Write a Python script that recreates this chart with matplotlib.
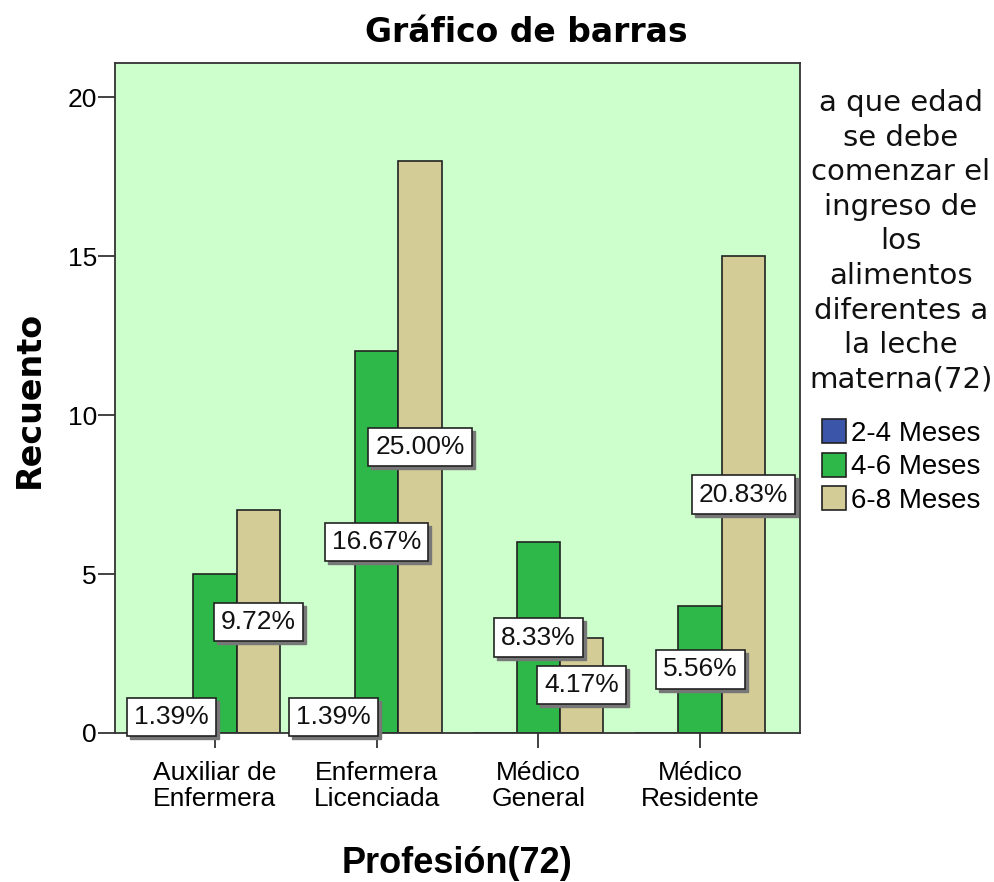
import matplotlib
matplotlib.use("Agg")
import matplotlib.pyplot as plt
import matplotlib.transforms as mtransforms
from matplotlib.patches import Patch
import numpy as np

plt.rcParams['font.family'] = ['Liberation Sans', 'DejaVu Sans']

categories = ["Auxiliar de\nEnfermera", "Enfermera\nLicenciada", "Médico\nGeneral", "Médico\nResidente"]
series_names = ["2-4 Meses", "4-6 Meses", "6-8 Meses"]
counts_2_4 = [1, 1, 0, 0]
counts_4_6 = [5, 12, 6, 4]
counts_6_8 = [7, 18, 3, 15]
total = 72
# which percentage labels are visible in the reference (per series, per category)
show_2_4 = [True, True, False, False]
show_4_6 = [False, True, True, True]
show_6_8 = [True, True, True, True]

colors = ["#3b55a8", "#2eb84a", "#d4cc96"]
series = [counts_2_4, counts_4_6, counts_6_8]
shows = [show_2_4, show_4_6, show_6_8]

W, H = 994, 882
fig = plt.figure(figsize=(W / 100, H / 100), dpi=100)
ax = fig.add_axes([115 / W, 1 - 733 / H, (800 - 115) / W, (733 - 63) / H])
ax.set_facecolor("#ccffcc")

x = np.arange(len(categories))
bw = 0.268
offsets = [-bw, 0, bw]

for vals, col, off in zip(series, colors, offsets):
    ax.bar(x + off, vals, width=bw, color=col, edgecolor="#222222", linewidth=1.2, zorder=2)

shadow_tr = mtransforms.offset_copy(ax.transData, fig=fig, x=3, y=-3, units="dots")
for vals, show, off in zip(series, shows, offsets):
    for i, v in enumerate(vals):
        if not show[i]:
            continue
        lbl = f"{v / total * 100:.2f}%"
        ax.text(x[i] + off, v / 2, lbl, transform=shadow_tr, ha="center", va="center",
                fontsize=19, color="#777777", zorder=4, clip_on=False,
                bbox=dict(boxstyle="square,pad=0.27", facecolor="#777777", edgecolor="#777777", linewidth=1))
        ax.text(x[i] + off, v / 2, lbl, ha="center", va="center", fontsize=19, color="#111111",
                zorder=5, clip_on=False,
                bbox=dict(boxstyle="square,pad=0.27", facecolor="white", edgecolor="#222222", linewidth=1.2))

ax.set_xlim(-0.617, 3.617)
ax.set_ylim(0, 21.07)
ax.set_yticks([0, 5, 10, 15, 20])
ax.set_xticks(x)
ax.set_xticklabels(categories, fontsize=19, linespacing=1.1)
ax.tick_params(axis="y", labelsize=19, length=12, width=1.2, color="#222222", pad=1)
ax.tick_params(axis="x", length=11, width=1.2, color="#222222", pad=9)
for s in ax.spines.values():
    s.set_color("#333333")
    s.set_linewidth(1.3)

fig.text(526 / W, 1 - 42 / H, "Gráfico de barras", ha="center", va="baseline",
         fontsize=23.8, fontweight="bold", family="DejaVu Sans")
fig.text(457 / W, 1 - 873 / H, "Profesión(72)", ha="center", va="baseline",
         fontsize=26, fontweight="bold")
fig.text(29 / W, 1 - 399 / H, "Recuento", ha="center", va="center", rotation=90,
         fontsize=24, fontweight="bold", family="DejaVu Sans")

fig.text(901 / W, 1 - 89 / H,
         "a que edad\nse debe\ncomenzar el\ningreso de\nlos\nalimentos\ndiferentes a\nla leche\nmaterna(72)",
         ha="center", va="top", fontsize=21, linespacing=1.30, color="#111111", family="DejaVu Sans")

handles = [Patch(facecolor=c, edgecolor="#222222", linewidth=1.2) for c in colors]
fig.legend(handles, series_names, loc="upper left", bbox_to_anchor=(822 / W, 1 - 419 / H),
           frameon=False, fontsize=20, handlelength=0.86, handleheight=0.97,
           handletextpad=0.2, labelspacing=0.21, borderpad=0, borderaxespad=0)

fig.savefig("out.png", dpi=100)
